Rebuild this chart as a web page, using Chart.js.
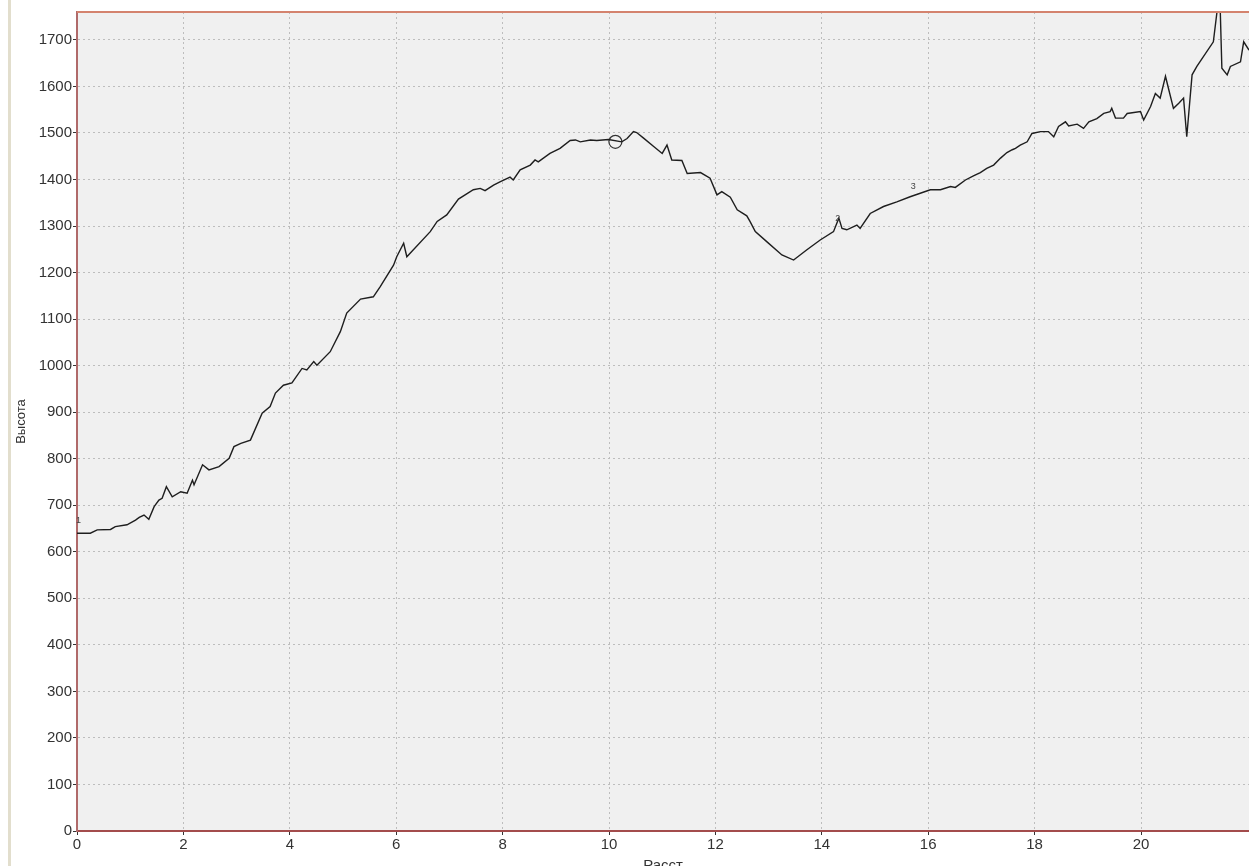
<!DOCTYPE html>
<html>
<head>
<meta charset="utf-8">
<script src="https://cdn.jsdelivr.net/npm/chart.js@4.4.1/dist/chart.umd.min.js"></script>
<style>
  html, body { margin: 0; padding: 0; background: #fff; overflow: hidden; }
  #wrap { position: relative; width: 1249px; height: 866px; overflow: hidden; }
  #frame { position: absolute; left: 8px; top: 0; width: 3px; height: 866px; background: #e2decd; }
  canvas { position: absolute; left: 0; top: 0; }
</style>
</head>
<body>
<div id="wrap">
  <div id="frame"></div>
  <canvas id="myChart" width="1262" height="881"></canvas>
</div>
<script>
// distance (km) and elevation (m) read from the profile
const distance = [0, 0.25, 0.38, 0.63, 0.72, 0.94, 1.10, 1.17, 1.26, 1.35, 1.45, 1.54, 1.60, 1.68, 1.79, 1.95, 2.07, 2.17, 2.20, 2.36,
  2.48, 2.67, 2.86, 2.95, 3.08, 3.26, 3.48, 3.63, 3.73, 3.88, 4.04, 4.23, 4.32, 4.45, 4.51, 4.76, 4.95, 5.07, 5.33, 5.57,
  5.70, 5.95, 6.01, 6.14, 6.20, 6.64, 6.77, 6.95, 7.17, 7.45, 7.58, 7.67, 7.83, 7.95, 8.14, 8.20, 8.33, 8.52, 8.61, 8.67,
  8.89, 9.08, 9.27, 9.37, 9.46, 9.65, 9.77, 9.99, 10.24, 10.34, 10.46, 10.52, 10.65, 10.84, 11.0, 11.09, 11.18, 11.37, 11.47, 11.72,
  11.90, 12.03, 12.12, 12.28, 12.41, 12.59, 12.65, 12.75, 12.97, 13.25, 13.47, 13.72, 13.97, 14.22, 14.32, 14.38, 14.47, 14.66, 14.72, 14.91,
  15.16, 15.41, 15.66, 16.04, 16.23, 16.42, 16.51, 16.70, 16.85, 16.98, 17.10, 17.23, 17.36, 17.48, 17.58, 17.64, 17.73, 17.86, 17.95, 18.11,
  18.26, 18.36, 18.45, 18.58, 18.64, 18.80, 18.92, 19.02, 19.17, 19.30, 19.42, 19.45, 19.52, 19.67, 19.74, 19.99, 20.05, 20.18, 20.27, 20.36,
  20.46, 20.52, 20.61, 20.71, 20.80, 20.86, 20.96, 21.05, 21.36, 21.43, 21.49, 21.52, 21.62, 21.68, 21.87, 21.93, 22.03];
const elevation = [640, 640, 647, 648, 654, 658, 668, 674, 679, 670, 697, 711, 715, 740, 718, 729, 726, 754, 744, 787,
  776, 783, 801, 826, 833, 840, 898, 912, 941, 958, 963, 994, 991, 1009, 1001, 1030, 1073, 1113, 1143, 1148,
  1170, 1216, 1234, 1263, 1234, 1288, 1310, 1324, 1358, 1378, 1381, 1376, 1388, 1395, 1405, 1399, 1421, 1431, 1442, 1438,
  1456, 1467, 1484, 1485, 1481, 1485, 1484, 1486, 1481, 1488, 1503, 1501, 1489, 1471, 1456, 1474, 1442, 1441, 1413, 1415,
  1403, 1367, 1374, 1362, 1335, 1322, 1310, 1288, 1266, 1238, 1227, 1249, 1270, 1288, 1317, 1295, 1292, 1302, 1295, 1327,
  1342, 1352, 1363, 1378, 1378, 1385, 1383, 1399, 1408, 1415, 1424, 1431, 1446, 1458, 1464, 1467, 1474, 1481, 1499, 1503,
  1503, 1492, 1514, 1524, 1515, 1519, 1510, 1524, 1531, 1542, 1546, 1553, 1532, 1532, 1542, 1546, 1528, 1557, 1585, 1575,
  1622, 1594, 1553, 1564, 1575, 1492, 1625, 1643, 1696, 1762, 1762, 1639, 1625, 1643, 1653, 1696, 1678];

// circled point and small numbered marks on the profile
const circleKm = [10.12];
const circleH = [1481];
const markText = ['1', '2', '3'];
const markKm = [0.03, 14.3, 15.72];
const markH = [668, 1317, 1386];

const tickFont = { family: "'Liberation Sans Narrow', 'Liberation Sans', Arial, sans-serif", size: 15 };

const plotBox = {
    id: 'plotBox',
    beforeDraw(chart) {
        const a = chart.chartArea, ctx = chart.ctx;
        ctx.save();
        ctx.fillStyle = '#f0f0f0';
        ctx.fillRect(a.left, a.top, a.right - a.left, a.bottom - a.top);
        ctx.restore();
    },
    afterDraw(chart) {
        const a = chart.chartArea, ctx = chart.ctx;
        const xs = chart.scales.x, ys = chart.scales.y;
        ctx.save();
        // top border
        ctx.strokeStyle = '#d4836e';
        ctx.lineWidth = 2;
        ctx.beginPath();
        ctx.moveTo(a.left, a.top);
        ctx.lineTo(a.right, a.top);
        ctx.stroke();
        // numbered marks
        ctx.fillStyle = '#444';
        ctx.font = "9px 'Liberation Sans', Arial";
        ctx.textAlign = 'center';
        ctx.textBaseline = 'middle';
        markText.forEach((t, i) => {
            ctx.fillText(t, xs.getPixelForValue(markKm[i]), ys.getPixelForValue(markH[i]));
        });
        ctx.restore();
    }
};

const ctx = document.getElementById('myChart').getContext('2d');
new Chart(ctx, {
    type: 'line',
    data: {
        datasets: [{
            data: distance.map((d, i) => ({ x: d, y: elevation[i] })),
            borderColor: '#1e1e1e',
            borderWidth: 1.4,
            pointRadius: 0,
            tension: 0,
            clip: 0
        }, {
            data: circleKm.map((d, i) => ({ x: d, y: circleH[i] })),
            showLine: false,
            pointRadius: 6.5,
            pointBorderColor: '#333',
            pointBorderWidth: 1.2,
            pointBackgroundColor: 'rgba(0,0,0,0)'
        }]
    },
    options: {
        responsive: false,
        animation: false,
        layout: { padding: { top: 12, right: 13, left: 0, bottom: 0 } },
        plugins: { legend: { display: false }, tooltip: { enabled: false } },
        scales: {
            x: {
                type: 'linear',
                min: 0,
                max: 22.03,
                afterBuildTicks: s => { s.ticks = s.ticks.filter(t => Math.abs(t.value % 2) < 1e-6); },
                afterFit: s => { s.height = 50; },
                ticks: { stepSize: 2, color: '#333', font: tickFont, padding: 1, maxRotation: 0, callback: v => String(v) },
                grid: { color: '#bdbdbd', tickColor: '#333', tickLength: 4 },
                border: { color: '#a34c4c', width: 2, dash: [2, 3] },
                title: { display: true, text: 'Расст', color: '#333', font: tickFont, padding: { top: 0, bottom: 6 } }
            },
            y: {
                min: 0,
                max: 1760,
                afterBuildTicks: s => { s.ticks = s.ticks.filter(t => t.value % 100 === 0); },
                afterFit: s => { s.width = 77; },
                ticks: { stepSize: 100, color: '#333', font: tickFont, padding: 1, callback: v => String(v) },
                grid: { color: '#bdbdbd', tickColor: '#333', tickLength: 4 },
                border: { color: '#b06a6a', width: 2, dash: [2, 3] },
                title: { display: true, text: 'Высота', color: '#333', font: { family: tickFont.family, size: 13 }, padding: { top: 14, bottom: 0 } }
            }
        }
    },
    plugins: [plotBox]
});
</script>
</body>
</html>
